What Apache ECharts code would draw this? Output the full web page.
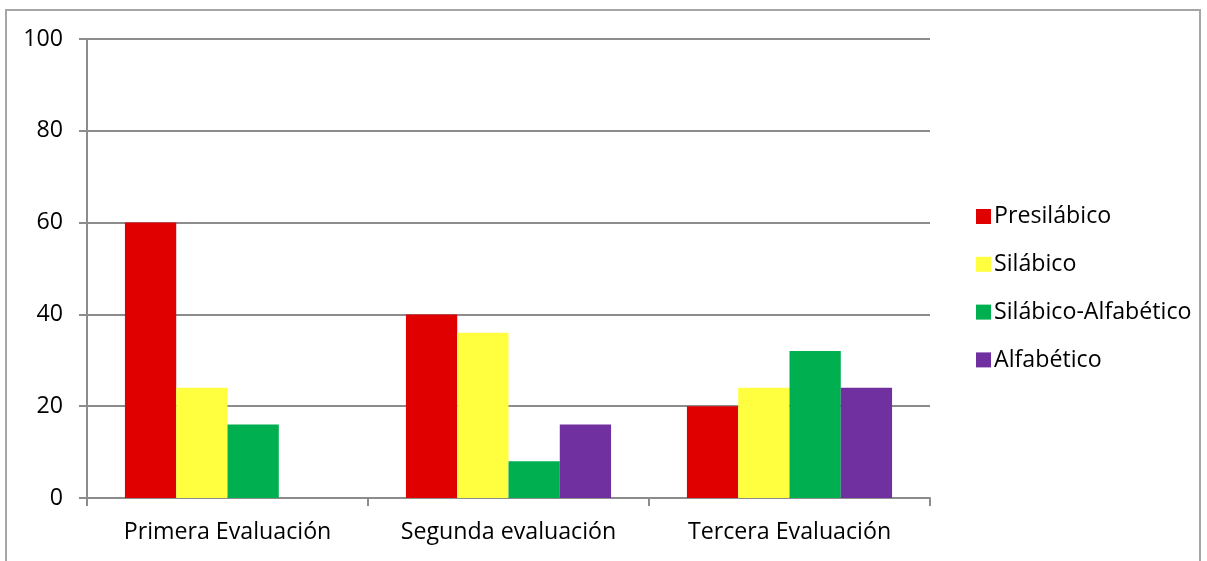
<!DOCTYPE html>
<html>
<head>
<meta charset="utf-8">
<script src="https://cdn.jsdelivr.net/npm/echarts@6/dist/echarts.min.js"></script>
<style>
html,body{margin:0;padding:0;background:#fff;}
#frame{position:absolute;left:5px;top:9px;width:1196px;height:600px;border:2px solid #a6a6a6;box-sizing:border-box;}
#c{position:absolute;left:0;top:0;width:1207px;height:561px;}
</style>
</head>
<body>
<div id="frame"></div>
<div id="c"></div>
<script>
const categories = ['Primera Evaluación', 'Segunda evaluación', 'Tercera Evaluación'];
const seriesNames = ['Presilábico', 'Silábico', 'Silábico-Alfabético', 'Alfabético'];
const presilabico = [60, 40, 20];
const silabico = [24, 36, 24];
const silabicoAlfabetico = [16, 8, 32];
const alfabetico = [null, 16, 24];
const yTicks = [0, 20, 40, 60, 80, 100];
const colors = ['#E00000', '#FFFF40', '#00B050', '#7030A0'];

const values = [presilabico, silabico, silabicoAlfabetico, alfabetico];
const font = '"Open Sans", sans-serif';
const fs = 23.2;
const chart = echarts.init(document.getElementById('c'));
chart.setOption({
  animation: false,
  color: colors,
  grid: { left: 87, right: 277, top: 39, bottom: 63, containLabel: false },
  legend: {
    orient: 'vertical',
    left: 971,
    top: 200,
    itemWidth: 15,
    itemHeight: 15,
    itemGap: 24.8,
    icon: 'rect',
    textStyle: { fontFamily: font, fontSize: fs, color: '#000', padding: [0, 0, 0, -2] },
    data: seriesNames
  },
  xAxis: {
    type: 'category',
    data: categories,
    axisLine: { lineStyle: { color: '#8c8c8c', width: 2 } },
    axisTick: { show: true, interval: 0, length: 8, lineStyle: { color: '#8c8c8c', width: 2 } },
    axisLabel: { interval: 0, hideOverlap: false, fontFamily: font, fontSize: fs, color: '#000', margin: 23 }
  },
  yAxis: {
    type: 'value',
    min: yTicks[0],
    max: yTicks[yTicks.length - 1],
    interval: 20,
    axisLine: { show: true, lineStyle: { color: '#8c8c8c', width: 2 } },
    axisTick: { show: true, length: 8, lineStyle: { color: '#8c8c8c', width: 2 } },
    splitLine: { lineStyle: { color: '#8c8c8c', width: 2 } },
    axisLabel: { fontFamily: font, fontSize: fs, color: '#000', margin: 24 }
  },
  series: seriesNames.map((n, i) => ({
    name: n,
    type: 'bar',
    data: values[i],
    barGap: '0%',
    barCategoryGap: '27%',
    itemStyle: { color: colors[i] }
  }))
});
</script>
</body>
</html>
